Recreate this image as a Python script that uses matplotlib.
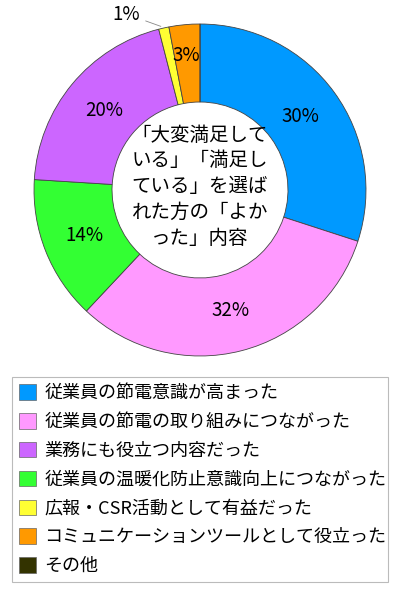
import matplotlib
matplotlib.use('Agg')
import matplotlib.pyplot as plt
from matplotlib.patches import Patch

plt.rcParams['font.family'] = ['Noto Sans CJK JP', 'DejaVu Sans']

labels = ['従業員の節電意識が高まった',
          '従業員の節電の取り組みにつながった',
          '業務にも役立つ内容だった',
          '従業員の温暖化防止意識向上につながった',
          '広報・CSR活動として有益だった',
          'コミュニケーションツールとして役立った',
          'その他']
values = [30, 32, 20, 14, 1, 3, 0]
colors = ['#0099FF', '#FF99FF', '#CC66FF', '#33FF33', '#FFFF33', '#FF9900', '#333300']
# order of the slices around the ring (clockwise from the top)
pie_order = [0, 1, 3, 2, 4, 5, 6]
center_text = '「大変満足して\nいる」「満足し\nている」を選ば\nれた方の「よか\nった」内容'

def pct(v):
    if v < 2:
        return ''
    return '%d%%' % round(v)

fig = plt.figure(figsize=(4, 6), dpi=100)
ax = fig.add_axes([0.085, 0.4067, 0.83, 0.5533])

wedges, texts, autotexts = ax.pie([values[i] for i in pie_order],
                                  colors=[colors[i] for i in pie_order],
                                  startangle=90, counterclock=False,
                                  autopct=pct, pctdistance=0.75,
                                  wedgeprops=dict(width=0.47, edgecolor='#444444', linewidth=0.6),
                                  textprops=dict(fontsize=13.5, color='black'))
# 3% sits a little further out
autotexts[5].set_position((-0.08, 0.81))

ax.annotate('1%', xy=(-0.22, 0.98), xytext=(-0.36, 1.06),
            fontsize=13.5, ha='right', va='center',
            arrowprops=dict(arrowstyle='-', color='#888888', lw=0.6))

ax.text(0, 0.02, center_text, ha='center', va='center', fontsize=14, linespacing=1.3)
ax.set_xlim(-1, 1)
ax.set_ylim(-1, 1)
ax.set_aspect('equal')
ax.axis('off')

handles = [Patch(facecolor=c, edgecolor='#666666', linewidth=0.5) for c in colors]
leg = fig.legend(handles, labels, loc='upper left', bbox_to_anchor=(0.03, 0.0167, 0.94, 0.355),
                 mode='expand', fontsize=13, frameon=True, fancybox=False,
                 handlelength=0.95, handleheight=0.95, handletextpad=0.45,
                 labelspacing=0.6, borderpad=0.4, borderaxespad=0)
leg.get_frame().set_edgecolor('#aaaaaa')
leg.get_frame().set_linewidth(0.8)

fig.savefig('out.png', dpi=100)
